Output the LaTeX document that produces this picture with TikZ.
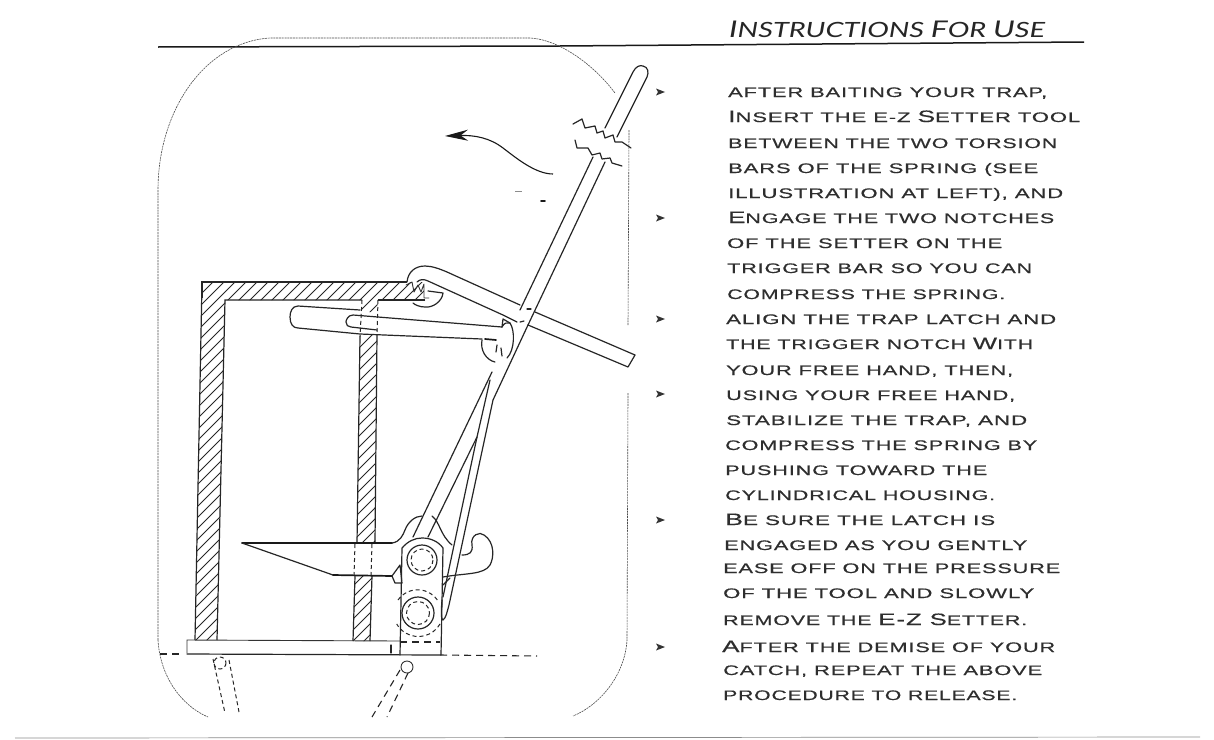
\documentclass[tikz,border=0pt]{standalone}
\usepackage{fontspec}
\usepackage{graphicx}
\usetikzlibrary{arrows.meta}
\newfontfamily\ezfont[FakeBold=.35]{Liberation Sans}
\newfontfamily\titlefont{Lato}
\newcommand\ezsmall{\ezfont\fontsize{13.8}{15}\selectfont}
\newcommand\B[1]{{\fontsize{16.5}{18}\selectfont #1}}
\newcommand\TB[1]{{\fontsize{23}{25}\selectfont #1}}
\newsavebox\ezbox
\newcommand\ezline[4]{% x, baseline, right end, text
  \node[anchor=base west,inner sep=0pt,text=black!82] at (#1,#2) {%
    \sbox\ezbox{\ezsmall\addfontfeature{LetterSpace=4}#4}%
    \pgfmathsetmacro\ezs{(#3-#1)/\wd\ezbox}%
    \scalebox{\ezs}[1]{\usebox\ezbox}};}
\tikzset{
  ink/.style={line width=1.2pt,black!85,line join=round,line cap=round},
  thick ink/.style={line width=1.7pt,black!90,line join=round,line cap=round},
  thin ink/.style={line width=.9pt,black!80,line join=round,line cap=round},
  hidden/.style={line width=1.1pt,black!85,dash pattern=on 7pt off 5pt},
  short hidden/.style={line width=1pt,black!85,dash pattern=on 4pt off 3pt},
  dotted edge/.style={line width=.6pt,black!70,dash pattern=on 2pt off .8pt},
  hatch/.style={line width=1pt,black!85},
  wall/.style={line width=1.2pt,black!85},
  bullet tip/.style={fill=black!80,draw=none},
}
\begin{document}
\begin{tikzpicture}[x=1pt,y=-1pt]
\useasboundingbox (0,0) rectangle (1214,739);
\fill[white] (0,0) rectangle (1214,739);
% rules
\draw[line width=1.5pt,black!90] (158,47) -- (560,46) -- (1084,42);
\draw[line width=.7pt,black!45] (15,738) -- (1200,737);
% rounded outline
\draw[dotted edge] (158,640) -- (158,190) .. controls (158,110) and (205,42) .. (270,38) -- (530,38)
  .. controls (555,39) and (590,60) .. (615,93);
\draw[dotted edge] (629,130) -- (628,325);
\draw[dotted edge] (628,393) -- (627,640) .. controls (625,675) and (600,705) .. (573,716);
\draw[dotted edge] (158,640) .. controls (160,675) and (180,705) .. (208,717);
% hatching
\begin{scope}
  \clip (202,282) -- (423,282) -- (425,300) -- (378,300) -- (377,312) -- (362,312) -- (362,300)
        -- (225,300) -- (217,640) -- (195,640) -- cycle;
  \foreach \c in {214,225,...,600} \draw[hatch] (\c,270) -- ({\c-400},670);
\end{scope}
\begin{scope}
  \clip (360,336) -- (377,334) -- (375,543) -- (357,543) -- cycle;
  \foreach \c in {426,437,...,650} \draw[hatch] (\c,270) -- ({\c-400},670);
\end{scope}
\begin{scope}
  \clip (355,576) -- (372,576) -- (370,641) -- (353,641) -- cycle;
  \foreach \c in {658,669,...,745} \draw[hatch] (\c,270) -- ({\c-400},670);
\end{scope}
% walls
\draw[wall] (202,298) -- (202,282) -- (407,282);
\draw[wall] (425,300) -- (378,300);
\draw[wall] (362,300) -- (225,300) -- (217,640);
\draw[wall] (202,282) -- (195,640);
\draw[wall] (360,336) -- (357,543);
\draw[wall] (377,334) -- (375,543);
\draw[wall] (355,576) -- (353,641);
\draw[wall] (372,576) -- (370,641);
\draw[short hidden] (362,300) -- (360,336);
\draw[short hidden] (378,300) -- (377,334);
\draw[short hidden] (355,544) -- (354,576);
\draw[short hidden] (372,544) -- (371,576);
% base plate
\draw[thin ink] (400,641) -- (187,640) -- (187,653);
\draw[ink] (187,654) -- (440,655);
\draw[hidden] (440,655) -- (537,656);
\draw[hidden] (160,654) -- (182,654);
% link legs below base
\draw[short hidden] (220,663) circle (6);
\draw[short hidden] (213,659) -- (225,713);
\draw[short hidden] (229,660) -- (239,712);
\draw[thin ink] (407,667) circle (6);
\draw[hidden] (400,670) -- (372,717);
\draw[hidden] (408,673) -- (387,717);
% lure cone
\draw[thick ink] (242,543) -- (392,543);
\draw[ink] (242,543) -- (333,575);
\draw[thick ink] (333,575) -- (392,576);
\draw[ink] (392,543) .. controls (400,542) and (403,535) .. (405,530) .. controls (408,522) and (415,516) .. (422,516);
\draw[ink] (432,516) .. controls (440,522) and (440,535) .. (452,545);
\draw[ink] (392,576) -- (400,565) -- (402,583) -- (395,583) -- (392,576);
% bracket
\draw[ink] (400,655) -- (402,548) .. controls (408,541) and (415,538) .. (422,538)
  .. controls (430,538) and (438,541) .. (443,548) -- (441,655);
\draw[hidden] (400,642) -- (440,642);
\draw[ink] (391,645) -- (391,653);
\draw[ink] (422,560) circle (15);
\draw[short hidden] (422,560) circle (11);
\draw[ink] (418,613) circle (16);
\draw[short hidden] (418,613) circle (11.5);
\draw[short hidden] (398,600) arc[start angle=215,end angle=330,radius=24];
\draw[short hidden] (440,624) arc[start angle=30,end angle=150,radius=25];
% hook
\draw[ink] (462,555) .. controls (470,555) and (473,552) .. (472,545)
  .. controls (470,535) and (480,531) .. (484,535) .. controls (495,542) and (494,558) .. (490,565)
  .. controls (484,575) and (465,573) .. (443,577);
% arms
\draw[ink] (413,537) -- (492,372);
\draw[ink] (428,537) -- (477,437);
\draw[ink] (443,597) -- (477,437) -- (490,380);
\draw[ink] (443,620) .. controls (441,620) and (441,612) .. (442,600);
\draw[ink] (443,620) .. controls (446,618) and (447,612) .. (449,605) -- (493,400) -- (528,325);
\draw[ink] (443,585) -- (450,578);
% setter
\draw[ink] (520,310) -- (593,157);
\draw[ink] (528,325) -- (605,162);
\draw[ink] (605,128) -- (633,72) .. controls (636,66) and (640,65) .. (643,66)
  .. controls (648,67) and (649,72) .. (647,77) -- (617,137);
\draw[ink] (527,309) -- (531,309);
\draw[ink] (520,322) -- (524,321);
% break lines
\draw[ink] (573,124) -- (582,119) -- (585,128) -- (595,126) -- (597,133) -- (603,131) -- (605,138)
  -- (613,135) -- (615,142) -- (622,142) -- (631,148);
\draw[ink] (575,140) -- (577,148) -- (588,148) -- (592,155) -- (600,153) -- (602,159) -- (610,158)
  -- (612,163) -- (622,166);
% upper trigger bar
\draw[ink] (407,282) .. controls (408,272) and (415,266) .. (425,266)
  .. controls (432,266) and (440,269) .. (447,272) -- (520,305);
\draw[ink] (535,312) -- (635,355) -- (628,367) -- (528,325);
\draw[ink] (417,282) .. controls (420,279) and (424,279) .. (428,281) -- (503,315) -- (517,322);
\draw[thin ink] (406,285) -- (412,282) -- (414,292) -- (418,285) -- (421,292) -- (424,284) -- (424,298) -- (429,298);
\draw[ink] (428,291) -- (443,293) .. controls (442,302) and (432,308) .. (425,307) .. controls (420,307) and (415,305) .. (413,303);
% latch bar
\draw[ink] (360,310) -- (298,306) .. controls (292,306) and (290,312) .. (290,317)
  .. controls (290,324) and (293,328) .. (298,328) -- (360,334) -- (482,339);
\draw[ink] (502,327) -- (353,315) .. controls (348,315) and (346,320) .. (346,322)
  .. controls (346,325) and (348,327) .. (351,327) -- (377,330);
\draw[ink] (502,327) .. controls (504,323) and (507,322) .. (510,323)
  .. controls (515,330) and (515,350) .. (507,358);
\draw[ink] (502,327) -- (503,319) -- (510,323);
\draw[thick ink] (485,339) -- (496,340);
\draw[ink] (482,340) .. controls (480,350) and (486,360) .. (495,362);
\draw[ink] (497,345) -- (496,352);
\draw[ink] (501,348) -- (502,356);
% curved arrow
\draw[line width=1.1pt,black!90,{Stealth[length=23pt,width=11pt]}-] (445,136) .. controls (475,135) and (490,138) .. (503,148)
  .. controls (515,157) and (535,174) .. (553,174);
\draw[line width=.7pt,black!45] (515,191) -- (522,191);
\draw[thick ink] (541,201) -- (545,201);
% bullets
\foreach \y in {92,218,319,394,520,647}
  \fill[bullet tip] (656,{\y-3.5}) -- (665,\y) -- (656,{\y+3.5}) -- (658,\y) -- cycle;
% title
\node[anchor=base west,inner sep=0pt,text=black!85] at (729,37) {%
  \sbox\ezbox{\titlefont\itshape\fontsize{21}{22}\selectfont \TB{I}NSTRUCTIONS \TB{F}OR \TB{U}SE}%
  \pgfmathsetmacro\ezs{316/\wd\ezbox}%
  \scalebox{\ezs}[1]{\usebox\ezbox}};
% body text
\ezline{728}{97}{1047}{AFTER BAITING YOUR TRAP,}
\ezline{728}{122}{1080}{\B{I}NSERT THE E-Z \B{S}ETTER TOOL}
\ezline{728}{148}{1057}{BETWEEN THE TWO TORSION}
\ezline{728}{173}{1038}{BARS OF THE SPRING (SEE}
\ezline{728}{198}{1063}{ILLUSTRATION AT LEFT), AND}
\ezline{728}{223}{1054}{\B{E}NGAGE THE TWO NOTCHES}
\ezline{727}{248}{1002}{OF THE SETTER ON THE}
\ezline{727}{273}{1032}{TRIGGER BAR SO YOU CAN}
\ezline{727}{299}{1005}{COMPRESS THE SPRING.}
\ezline{726}{324}{1056}{ALIGN THE TRAP LATCH AND}
\ezline{726}{349}{1033}{THE TRIGGER NOTCH \B{W}ITH}
\ezline{726}{375}{1013}{YOUR FREE HAND, THEN,}
\ezline{726}{400}{1015}{USING YOUR FREE HAND,}
\ezline{726}{425}{1027}{STABILIZE THE TRAP, AND}
\ezline{725}{450}{1037}{COMPRESS THE SPRING BY}
\ezline{725}{475}{987}{PUSHING TOWARD THE}
\ezline{725}{500}{995}{CYLINDRICAL HOUSING.}
\ezline{725}{525}{995}{\B{B}E SURE THE LATCH IS}
\ezline{724}{550}{1027}{ENGAGED AS YOU GENTLY}
\ezline{723}{573}{1060}{EASE OFF ON THE PRESSURE}
\ezline{723}{598}{1034}{OF THE TOOL AND SLOWLY}
\ezline{723}{625}{1027}{REMOVE THE \B{E-Z S}ETTER.}
\ezline{722}{652}{1055}{\B{A}FTER THE DEMISE OF YOUR}
\ezline{723}{675}{1042}{CATCH, REPEAT THE ABOVE}
\ezline{723}{700}{1017}{PROCEDURE TO RELEASE.}
\end{tikzpicture}
\end{document}
